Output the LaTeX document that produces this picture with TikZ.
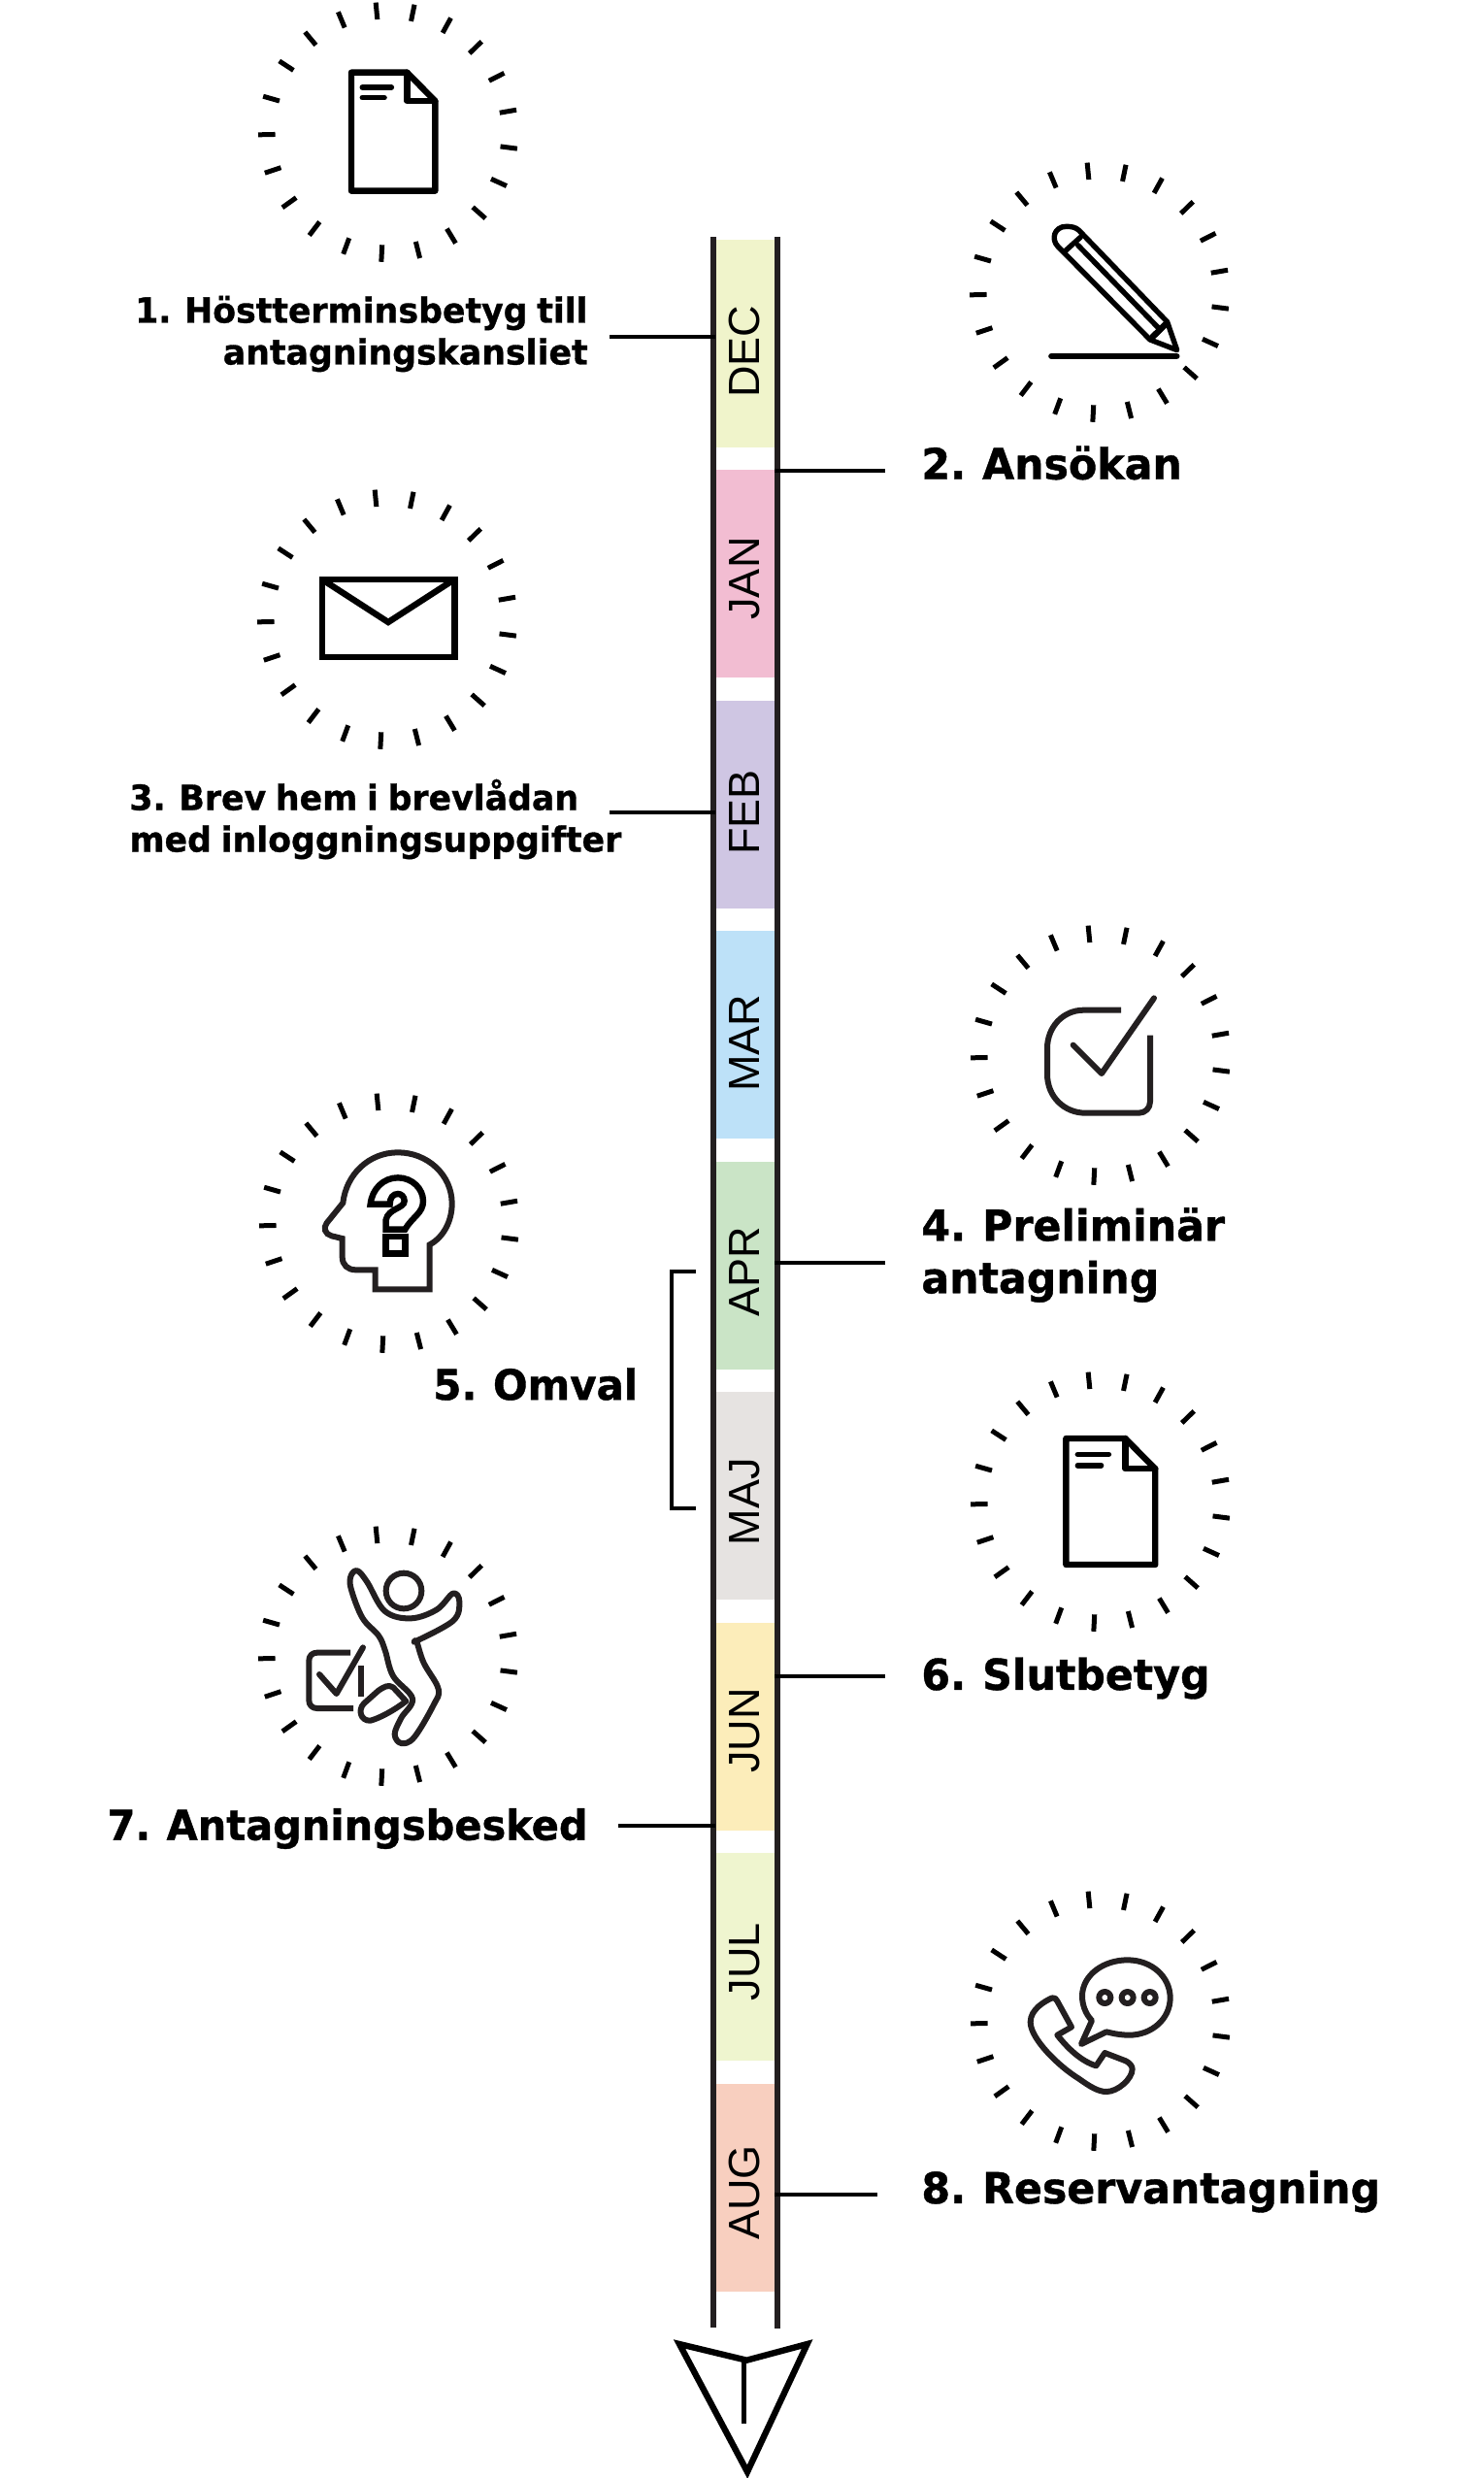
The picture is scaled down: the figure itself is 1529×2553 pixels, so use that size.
\documentclass[tikz,border=0pt]{standalone}
\usepackage{fontspec}
\setmainfont[WordSpace=0.8,BoldFeatures={FakeBold=0.9,FakeStretch=0.97}]{DejaVu Sans}
\newfontfamily\monthfont{Liberation Sans}
\definecolor{railgray}{HTML}{231F20}
\definecolor{decgreen}{HTML}{F0F4CB}
\definecolor{janpink}{HTML}{F2BDD2}
\definecolor{feblilac}{HTML}{CFC6E3}
\definecolor{marblue}{HTML}{BDE1F8}
\definecolor{aprgreen}{HTML}{CAE4C6}
\definecolor{majgray}{HTML}{E6E3E1}
\definecolor{junyellow}{HTML}{FCEDBA}
\definecolor{julgreen}{HTML}{EFF5CF}
\definecolor{augpeach}{HTML}{F8CFBF}

\begin{document}
\begin{tikzpicture}[
  x=0.5pt,y=-0.5pt,
  monthbar/.style={rectangle,minimum width=61*0.5pt,minimum height=214*0.5pt,inner sep=0pt},
  monthtext/.style={rotate=90,inner sep=0pt,text height=16.5pt,text depth=0pt,font=\monthfont\fontsize{22.5}{24}\selectfont,text=black},
  rail/.style={draw=railgray,line width=3pt},
  leader/.style={draw=black,line width=2.4pt},
  tickmark/.style={draw=black,line width=2.5pt},
  iconline/.style={draw=black,line width=3.2pt,line cap=round,line join=round},
  softline/.style={draw=railgray,line width=3pt,line cap=round,line join=round},
  biglabel/.style={inner sep=0pt,font=\bfseries\fontsize{22}{27}\selectfont},
  smalllabel/.style={inner sep=0pt,font=\bfseries\fontsize{17.9}{21.5}\selectfont},
  docicon/.pic={
    \draw[iconline] (366,224) -- (538,224) -- (625,312) -- (625,590) -- (366,590) -- cycle;
    \draw[iconline] (538,224) -- (538,312) -- (625,312);
    \draw[iconline,line width=2.8pt] (400,270) -- (490,270);
    \draw[iconline,line width=2.8pt] (400,302) -- (468,302);
  }
]
  \useasboundingbox (0,0) rectangle (1529,2553);

  % month bars
  \foreach \mon/\txt/\col/\ypos/\tpos in {
    dec/DEC/decgreen/353.5/362,jan/JAN/janpink/591/596,feb/FEB/feblilac/828.5/837,
    mar/MAR/marblue/1066/1074.5,apr/APR/aprgreen/1303.5/1310.5,maj/MAJ/majgray/1541/1547,
    jun/JUN/junyellow/1778.5/1783,jul/JUL/julgreen/2016/2021,aug/AUG/augpeach/2253.5/2259}{
    \node[monthbar,fill=\col] (\mon) at (767.5,\ypos) {};
    \node[monthtext] (\mon txt) at (766,\tpos) {\txt};
  }

  % rails
  \coordinate (railla) at (735,244);
  \coordinate (raillb) at (735,2398);
  \coordinate (railra) at (801,244);
  \coordinate (railrb) at (801,2399);
  \draw[rail] (railla) -- (raillb);
  \draw[rail] (railra) -- (railrb);

  % arrow at the end
  \begin{scope}[shift={(660,2280)},scale=1/3]
    \draw[draw=black,line width=3.2pt,miter limit=10] (120,405) -- (328,455) -- (515,405) -- (330,800) -- cycle;
    \draw[draw=black,line width=2.8pt] (320,455) -- (320,652);
  \end{scope}

  % labels
  \node[smalllabel,anchor=east,align=right] (step1) at (606,344) {1. Höstterminsbetyg till\\antagningskansliet};
  \node[biglabel,anchor=west] (step2) at (949,477) {2. Ansökan};
  \node[smalllabel,anchor=west,align=left] (step3) at (133,844) {3. Brev hem i brevlådan\\med inloggningsuppgifter};
  \node[biglabel,anchor=west,align=left] (step4) at (949,1293) {4. Preliminär\\antagning};
  \node[biglabel,anchor=west,font=\bfseries\fontsize{21.6}{27}\selectfont] (step5) at (446,1426) {5. Omval};
  \node[biglabel,anchor=west] (step6) at (949,1729) {6. Slutbetyg};
  \node[biglabel,anchor=east,font=\bfseries\fontsize{21.4}{27}\selectfont] (step7) at (606,1884) {7. Antagningsbesked};
  \node[biglabel,anchor=west] (step8) at (949,2258) {8. Reservantagning};

  % leaders
  \coordinate (lead1) at (628,347);
  \coordinate (lead2) at (912,485);
  \coordinate (lead3) at (628,837);
  \coordinate (lead4) at (912,1301);
  \coordinate (lead6) at (912,1727);
  \coordinate (lead7) at (637,1881);
  \coordinate (lead8) at (904,2261);
  \draw[leader] (lead1) -- (lead1 -| dec.west);
  \draw[leader] (lead2) -- (lead2 -| jan.east);
  \draw[leader] (lead3) -- (lead3 -| feb.west);
  \draw[leader] (lead4) -- (lead4 -| apr.east);
  \draw[leader] (lead6) -- (lead6 -| jun.east);
  \draw[leader] (lead7) -- (lead7 -| jun.west);
  \draw[leader] (lead8) -- (lead8 -| aug.east);

  % omval bracket
  \coordinate (omvala) at (717,1310);
  \coordinate (omvalb) at (717,1554);
  \draw[leader] (omvala) -- (692,1310) -- (692,1554) -- (omvalb);

  % dials
  \foreach \cx/\cy in {400/136,1133/301,399/638,1134/1087,401/1260,1134/1547,400/1706,1134/2082}{
    \foreach \k in {0,...,20}{
      \draw[tickmark,shift={(\cx,\cy)}] ({-95.5+\k*360/21}:116.5) -- ({-95.5+\k*360/21}:134);
    }
  }

  % documents
  \pic[scale=1/3] at (240,0) {docicon};
  \pic[scale=0.355] at (968.4,1402.5) {docicon};

  % pencil
  \begin{scope}[shift={(980,150)},scale=1/3]
    \draw[iconline,line width=2.7pt] (330,312) .. controls (308,290) and (318,250) .. (356,250) .. controls (370,250) and (385,252) .. (395,262) -- (668,545) -- (698,632) -- (615,600) -- cycle;
    \draw[iconline,line width=2.7pt] (350,328) -- (400,283);
    \draw[iconline,line width=2.7pt] (392,308) -- (642,565);
    \draw[iconline,line width=3.2pt] (622,592) -- (665,550);
    \draw[iconline] (310,651) -- (697,651);
  \end{scope}

  % envelope
  \draw[iconline,line join=miter] (332,596.7) rectangle (468.3,677);
  \draw[iconline,line cap=butt,line join=miter] (335,599) -- (400,641) -- (465,599);

  % checkbox
  \begin{scope}[shift={(1040,1000)},scale=1/3]
    \draw[softline,line cap=butt] (345,122) -- (230,122) .. controls (165,122) and (117,175) .. (117,240) -- (117,320) .. controls (117,390) and (170,440) .. (235,440) -- (400,440) .. controls (420,440) and (435,425) .. (435,405) -- (435,200);
    \draw[softline] (197,230) -- (285,318) -- (447,85);
  \end{scope}

  % head
  \begin{scope}[shift={(300,1150)},scale=1/3]
    \draw[softline,line cap=butt,line join=miter] (428,535) -- (428,397) .. controls (470,375) and (497,325) .. (497,270) .. controls (497,180) and (420,112) .. (330,112) .. controls (240,112) and (170,180) .. (160,268) -- (110,330) .. controls (98,345) and (105,365) .. (125,370) -- (158,378) -- (158,435) .. controls (158,460) and (175,475) .. (200,475) -- (260,475) -- (260,535) -- cycle;
    \draw[iconline,line cap=butt,line join=miter] (245,272) .. controls (250,225) and (285,190) .. (330,190) .. controls (375,190) and (408,225) .. (408,262) .. controls (408,300) and (375,310) .. (352,350) -- (293,350) -- (293,320) .. controls (300,285) and (350,285) .. (350,262) .. controls (350,248) and (340,240) .. (330,240) .. controls (315,240) and (305,252) .. (305,272) -- cycle;
    \draw[iconline,line join=miter] (293,372) rectangle (353,425);
  \end{scope}

  % jumping person
  \begin{scope}[shift={(250,1560)},scale=1/3]
    \draw[softline] (498,237) circle (55);
    \draw[softline] plot[smooth,tension=0.6] coordinates {(530,395) (650,330) (670,270) (650,245) (600,295) (520,322) (440,300) (385,210) (355,175) (335,190) (335,230) (370,320) (420,375) (440,420) (465,500) (525,570) (490,630) (470,680) (490,708) (530,690) (590,590) (605,540) (560,460) (538,395) (530,395)};
    \draw[softline] (505,578) -- (465,535) .. controls (450,525) and (435,535) .. (420,545) -- (375,585) .. controls (355,605) and (365,640) .. (395,638) .. controls (425,630) and (470,605) .. cycle;
    \draw[softline,line cap=butt] (333,428) -- (230,428) .. controls (215,428) and (205,438) .. (205,453) -- (205,575) .. controls (205,590) and (215,600) .. (230,600) -- (342,600);
    \draw[softline,line cap=butt] (367,468) -- (367,565);
    \draw[softline] (237,495) -- (290,555) -- (372,412);
  \end{scope}

  % phone
  \begin{scope}[shift={(1040,1990)},scale=1/3]
    \draw[softline] (222,348) -- (255,275) .. controls (235,255) and (225,225) .. (225,200) .. controls (225,135) and (290,88) .. (365,88) .. controls (440,88) and (497,140) .. (497,205) .. controls (497,270) and (440,320) .. (370,320) .. controls (345,320) and (320,315) .. (300,310) -- cycle;
    \foreach \dotx in {295,365,434}{
      \draw[softline] (\dotx,204) circle (18);
    }
    \draw[softline] (132,205) .. controls (110,215) and (65,240) .. (65,280) .. controls (65,330) and (150,415) .. (215,455) .. controls (250,480) and (275,495) .. (300,495) .. controls (335,495) and (380,455) .. (380,425) .. controls (380,415) and (370,405) .. (360,400) -- (295,375) -- (268,415) .. controls (220,400) and (180,360) .. (148,320) -- (192,295) -- (148,215) .. controls (145,208) and (140,203) .. (132,205) -- cycle;
  \end{scope}
\end{tikzpicture}
\end{document}
